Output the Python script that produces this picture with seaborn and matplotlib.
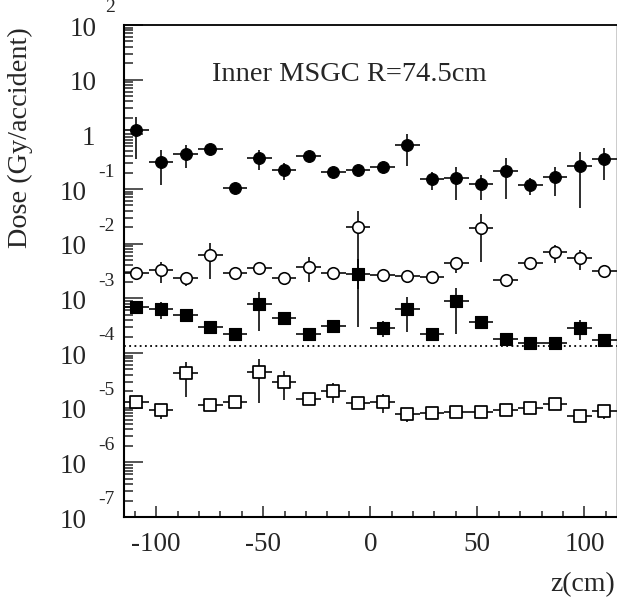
import matplotlib
matplotlib.use("Agg")
import matplotlib.pyplot as plt
from matplotlib.ticker import FixedLocator, MultipleLocator, NullFormatter
import numpy as np
import pandas as pd
import seaborn as sns

# Bin centres along z (cm) and the half-width of each bin
z_cm = [-109.25, -97.75, -86.25, -74.75, -63.25, -51.75, -40.25, -28.75, -17.25, -5.75,
        5.75, 17.25, 28.75, 40.25, 51.75, 63.25, 74.75, 86.25, 97.75, 109.25]
z_half_width = 5.75

# Dose per accident (Gy) and its uncertainty for the four samples
dose_filled_circle = [1.2, 0.316, 0.436, 0.547, 0.106, 0.374, 0.223, 0.402, 0.202, 0.226,
                      0.253, 0.63, 0.150, 0.159, 0.124, 0.216, 0.12, 0.163, 0.264, 0.359]
err_filled_circle = [0.85, 0.2, 0.19, 0.05, 0.01, 0.15, 0.075, 0.04, 0.02, 0.02,
                     0.02, 0.37, 0.055, 0.095, 0.06, 0.15, 0.042, 0.09, 0.22, 0.215]

dose_open_circle = [2.87e-3, 3.3e-3, 2.39e-3, 6.2e-3, 2.95e-3, 3.55e-3, 2.32e-3, 3.8e-3, 2.87e-3, 2.05e-2,
                    2.67e-3, 2.6e-3, 2.49e-3, 4.37e-3, 1.96e-2, 2.17e-3, 4.38e-3, 6.95e-3, 5.55e-3, 3.1e-3]
err_open_circle = [2e-4, 1.4e-3, 7e-4, 3.9e-3, 2e-4, 2e-4, 2e-4, 1.8e-3, 2e-4, 1.9e-2,
                   2e-4, 2e-4, 2e-4, 1.45e-3, 1.5e-2, 2e-4, 4e-4, 2.5e-3, 2.2e-3, 3e-4]

dose_filled_square = [6.86e-4, 6.38e-4, 4.95e-4, 3.03e-4, 2.23e-4, 7.88e-4, 4.31e-4, 2.2e-4, 3.16e-4, 2.8e-3,
                      2.9e-4, 6.38e-4, 2.2e-4, 8.95e-4, 3.64e-4, 1.8e-4, 1.51e-4, 1.51e-4, 2.9e-4, 1.74e-4]
err_filled_square = [5e-5, 2.2e-4, 5e-5, 3e-5, 2e-5, 5.4e-4, 4e-5, 2e-5, 3e-5, 2.5e-3,
                     9e-5, 4e-4, 2e-5, 6.7e-4, 3e-5, 2e-5, 1.5e-5, 1.5e-5, 1.15e-4, 1.5e-5]

dose_open_square = [1.25e-5, 9.08e-6, 4.25e-5, 1.12e-5, 1.25e-5, 4.44e-5, 2.99e-5, 1.43e-5, 2.02e-5, 1.24e-5,
                    1.29e-5, 7.57e-6, 7.89e-6, 8.22e-6, 8.22e-6, 9.08e-6, 9.72e-6, 1.15e-5, 7.05e-6, 8.69e-6]
err_open_square = [3e-6, 2.8e-6, 2.7e-5, 1e-6, 1e-6, 3.2e-5, 1.6e-5, 1e-6, 8e-6, 1e-6,
                   5e-6, 2e-6, 5e-7, 5e-7, 5e-7, 5e-7, 5e-7, 1e-6, 5e-7, 2.5e-6]

reference_level = 1.36e-4

title_text = "Inner MSGC R=74.5cm"
x_label = "z(cm)"
y_label = "Dose (Gy/accident)"
x_ticks = [-100, -50, 0, 50, 100]
y_exponents = [-7, -6, -5, -4, -3, -2, -1, 0, 1, 2]

sns.set_theme(style="ticks")
plt.rcParams["font.family"] = ["Liberation Serif", "DejaVu Serif"]
plt.rcParams["axes.facecolor"] = "white"
plt.rcParams["figure.facecolor"] = "white"

W, H = 617, 599
fig = plt.figure(figsize=(W / 100, H / 100), dpi=100)
left, right, top, bottom = 124, 616.5, 25, 517
ax = fig.add_axes([left / W, 1 - bottom / H, (right - left) / W, (bottom - top) / H])
ax.set_yscale("log")
ax.set_xlim(-115, 115)
ax.set_ylim(1e-7, 1e2)

series = [
    (dose_filled_circle, err_filled_circle, "o", "black", 72, 0.8),
    (dose_open_circle, err_open_circle, "o", "white", 69, 1.15),
    (dose_filled_square, err_filled_square, "s", "black", 74, 0.8),
    (dose_open_square, err_open_square, "s", "white", 81, 1.25),
]

frames = []
for i, (dose, err, *_rest) in enumerate(series):
    frames.append(pd.DataFrame({"z": z_cm, "dose": dose, "err": err, "sample": i}))
data = pd.concat(frames, ignore_index=True)

# reference dose level
ax.axhline(reference_level, color="black", linestyle=(0, (1.0, 1.9)), linewidth=1.3, zorder=1)

for i, (dose, err, marker, face, size, edge_lw) in enumerate(series):
    d = data[data["sample"] == i]
    ax.errorbar(d["z"], d["dose"], xerr=z_half_width, yerr=d["err"], fmt="none",
                ecolor="black", elinewidth=1.15, capsize=0, zorder=2)
    sns.scatterplot(data=d, x="z", y="dose", marker=marker, s=size, color=face,
                    edgecolor="black", linewidth=edge_lw, ax=ax, legend=False, zorder=3)

tick_fs = 19.5
# x axis ticks
ax.xaxis.set_major_locator(FixedLocator(x_ticks))
ax.xaxis.set_minor_locator(MultipleLocator(10))
ax.set_xticklabels([str(t) for t in x_ticks])
ax.tick_params(axis="x", which="major", direction="in", length=8, width=1.1,
               labelsize=tick_fs, pad=11.0, top=False)
ax.tick_params(axis="x", which="minor", direction="in", length=4, width=1.1, top=False)

# y axis ticks with exponent labels written as base plus raised power
ax.yaxis.set_major_locator(FixedLocator([10.0 ** e for e in y_exponents]))
minor = [m * 10.0 ** e for e in y_exponents[:-1] for m in range(2, 10)]
ax.yaxis.set_minor_locator(FixedLocator(minor))
ax.yaxis.set_major_formatter(NullFormatter())
ax.yaxis.set_minor_formatter(NullFormatter())
ax.tick_params(axis="y", which="major", direction="in", length=13.5, width=1.1, right=False)
ax.tick_params(axis="y", which="minor", direction="in", length=6.8, width=1.1, right=False)

for e in y_exponents:
    base = "1" if e == 0 else "10"
    if e < 0:
        base_dx = -37
    elif e == 0:
        base_dx = -29
    else:
        base_dx = -27
    ax.annotate(base, xy=(0, 10.0 ** e), xycoords=("axes fraction", "data"),
                xytext=(base_dx * 0.72, -10.5 * 0.72), textcoords="offset points",
                ha="right", va="baseline", fontsize=tick_fs, annotation_clip=False)
    if e not in (0, 1):
        ax.annotate(str(e), xy=(0, 10.0 ** e), xycoords=("axes fraction", "data"),
                    xytext=(-9.5 * 0.72, 12.5 * 0.72), textcoords="offset points",
                    ha="right", va="baseline", fontsize=14, annotation_clip=False)

for side in ["left", "bottom"]:
    ax.spines[side].set_linewidth(1.5)
ax.spines["top"].set_linewidth(1.3)
ax.spines["right"].set_linewidth(1.0)
for side in ax.spines:
    ax.spines[side].set_color("black")
ax.grid(False)

ax.text((212 - left) / (right - left), (bottom - 81) / (bottom - top), title_text,
        transform=ax.transAxes, ha="left", va="baseline", fontsize=20.5)

ax.set_xlabel(x_label, fontsize=20, ha="right", va="baseline")
ax.xaxis.set_label_coords((615 - left) / (right - left), -(591 - bottom) / (bottom - top))
ax.set_ylabel(y_label, fontsize=20.3, va="center")
ax.yaxis.set_label_coords((20 - left) / (right - left), (bottom - 138) / (bottom - top))

fig.savefig("out.png", dpi=100)
